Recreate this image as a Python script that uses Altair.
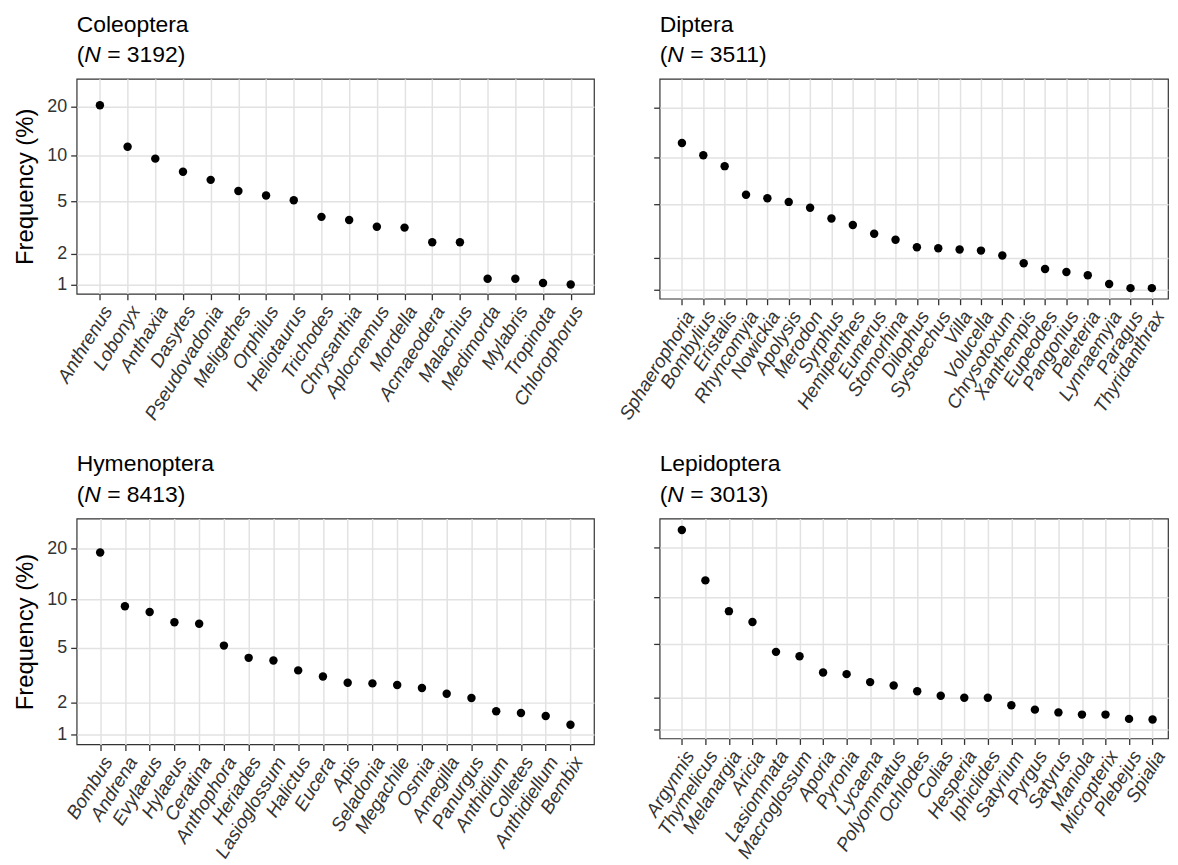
import altair as alt
import pandas as pd

FONT = "Liberation Sans"

orders = ["Coleoptera", "Diptera", "Hymenoptera", "Lepidoptera"]
sample_n = [3192, 3511, 8413, 3013]

coleoptera_genera = ["Anthrenus", "Lobonyx", "Anthaxia", "Dasytes", "Pseudovadonia", "Meligethes",
                     "Orphilus", "Heliotaurus", "Trichodes", "Chrysanthia", "Aplocnemus", "Mordella",
                     "Acmaeodera", "Malachius", "Medimorda", "Mylabris", "Tropinota", "Chlorophorus"]
coleoptera_freq = [20.5, 11.4, 9.6, 7.9, 7.0, 5.9, 5.5, 5.1, 3.9, 3.7, 3.3, 3.25,
                   2.5, 2.5, 1.16, 1.16, 1.04, 1.0]

diptera_genera = ["Sphaerophoria", "Bombylius", "Eristalis", "Rhyncomyia", "Nowickia", "Apolysis",
                  "Merodon", "Syrphus", "Hemipenthes", "Eumerus", "Stomorhina", "Dilophus",
                  "Systoechus", "Villa", "Volucella", "Chrysotoxum", "Xanthempis", "Eupeodes",
                  "Pangonius", "Peleteria", "Lynnaemyia", "Paragus", "Thyridanthrax"]
diptera_freq = [12.3, 10.35, 8.85, 5.8, 5.5, 5.2, 4.75, 4.0, 3.6, 3.1, 2.8, 2.45,
                2.4, 2.35, 2.3, 2.1, 1.8, 1.6, 1.5, 1.4, 1.14, 1.03, 1.03]

hymenoptera_genera = ["Bombus", "Andrena", "Evylaeus", "Hylaeus", "Ceratina", "Anthophora",
                      "Heriades", "Lasioglossum", "Halictus", "Eucera", "Apis", "Seladonia",
                      "Megachile", "Osmia", "Amegilla", "Panurgus", "Anthidium", "Colletes",
                      "Anthidiellum", "Bembix"]
hymenoptera_freq = [18.9, 9.1, 8.4, 7.25, 7.1, 5.15, 4.27, 4.1, 3.5, 3.17, 2.85, 2.82,
                    2.74, 2.6, 2.35, 2.18, 1.69, 1.63, 1.53, 1.27]

lepidoptera_genera = ["Argynnis", "Thymelicus", "Melanargia", "Aricia", "Lasiommata", "Macroglossum",
                      "Aporia", "Pyronia", "Lycaena", "Polyommatus", "Ochlodes", "Colias",
                      "Hesperia", "Iphiclides", "Satyrium", "Pyrgus", "Satyrus", "Maniola",
                      "Micropterix", "Plebejus", "Spialia"]
lepidoptera_freq = [25.3, 12.7, 8.2, 7.0, 4.43, 4.13, 3.16, 3.07, 2.67, 2.51, 2.26, 2.08,
                    2.0, 2.0, 1.72, 1.57, 1.48, 1.41, 1.41, 1.28, 1.26]

y_ticks = [1, 2, 5, 10, 20]
y_domain = [0.77, 29.5]

TITLE_SIZE = 23


def panel(order, n, genera, freq, width, height, pad, align, left):
    df = pd.DataFrame({"genus": genera, "freq": freq})
    yaxis = alt.Axis(values=y_ticks, title="Frequency (%)" if left else None,
                     labels=left, titleFontSize=24, titleFontWeight="normal",
                     titleColor="black", titlePadding=9, labelPadding=4, labelFontSize=18)
    pts = alt.Chart(df).mark_circle(size=72, color="black", opacity=1).encode(
        x=alt.X("genus:N", sort=genera,
                scale=alt.Scale(type="point", padding=pad, align=align),
                axis=alt.Axis(title=None, grid=True, labelAngle=302, labelAlign="right",
                              labelBaseline="top", labelFontStyle="italic",
                              labelFontSize=19, labelPadding=3)),
        y=alt.Y("freq:Q",
                scale=alt.Scale(type="symlog", constant=1, domain=y_domain, nice=False, zero=False),
                axis=yaxis),
    )
    tdf = pd.DataFrame({"order": [order], "open": ["("], "nn": ["N"], "rest": ["= %d)" % n]})
    base_t = alt.Chart(tdf)
    t1 = base_t.mark_text(align="left", baseline="alphabetic", fontSize=TITLE_SIZE,
                          font=FONT, color="black").encode(
        x=alt.value(0), y=alt.value(-47.5), text="order:N")
    t2 = base_t.mark_text(align="left", baseline="alphabetic", fontSize=TITLE_SIZE,
                          font=FONT, color="black").encode(
        x=alt.value(0), y=alt.value(-17), text="open:N")
    t3 = base_t.mark_text(align="left", baseline="alphabetic", fontSize=TITLE_SIZE,
                          font=FONT, fontStyle="italic", color="black").encode(
        x=alt.value(TITLE_SIZE * 0.333), y=alt.value(-17), text="nn:N")
    t4 = base_t.mark_text(align="left", baseline="alphabetic", fontSize=TITLE_SIZE,
                          font=FONT, color="black").encode(
        x=alt.value(TITLE_SIZE * (0.333 + 0.722 + 0.278)), y=alt.value(-17), text="rest:N")
    return alt.layer(pts, t1, t2, t3, t4).properties(width=width, height=height)


c1 = panel(orders[0], sample_n[0], coleoptera_genera, coleoptera_freq, 520, 216, 0.84, 0.5, True)
c2 = panel(orders[1], sample_n[1], diptera_genera, diptera_freq, 511, 221, 0.9, 0.58, False)
c3 = panel(orders[2], sample_n[2], hymenoptera_genera, hymenoptera_freq, 520, 227, 0.95, 0.5, True)
c4 = panel(orders[3], sample_n[3], lepidoptera_genera, lepidoptera_freq, 511, 221, 0.8, 0.59, False)

chart = alt.concat(c1, c2, c3, c4, columns=2, spacing=alt.RowColnumber(row=221, column=66),
                   bounds="flush").properties(
    padding={"left": 5, "top": 2, "right": 0, "bottom": 0}
).configure(
    font=FONT
).configure_view(
    stroke="#333333", strokeWidth=1.2
).configure_axis(
    domain=False, tickColor="#333333", tickWidth=1.3, tickSize=6,
    gridColor="#e2e2e2", gridWidth=1.5, labelColor="#333333", labelFont=FONT,
    titleFont=FONT
)

chart.save("out.html", embed_options={"renderer": "svg", "actions": False})
